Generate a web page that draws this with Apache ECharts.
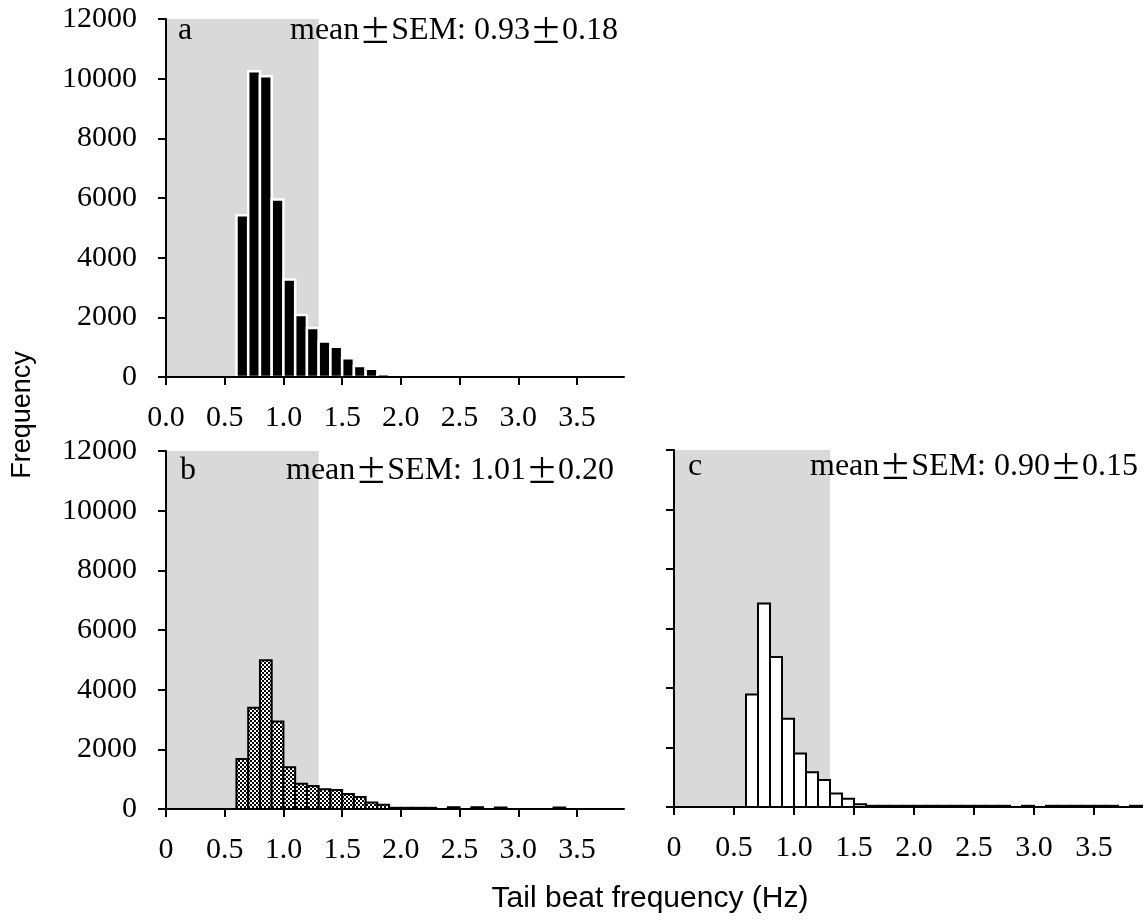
<!DOCTYPE html>
<html><head><meta charset="utf-8">
<script src="https://cdn.jsdelivr.net/npm/echarts@6/dist/echarts.min.js"></script>
<style>html,body{margin:0;padding:0;background:#fff}#chart{width:1148px;height:920px}</style>
</head><body><div id="chart"></div>
<script>
// ---- data ----
const binLeft = [0.6,0.7,0.8,0.9,1.0,1.1,1.2,1.3,1.4,1.5,1.6,1.7,1.8,1.9,2.0,2.1,2.2,2.3,2.4,2.5,2.6,2.7,2.8,2.9,3.0,3.1,3.2,3.3,3.4,3.5,3.6,3.7,3.8];
const binWidth = 0.1;
const freqA = [5420,10250,10080,5950,3270,2080,1640,1190,1010,630,370,280,100,0,0,0,0,0,0,0,0,0,0,0,0,0,0,0,0,0,0,0,0];
const freqB = [1680,3390,4990,2930,1400,850,770,660,640,500,400,220,140,40,40,40,40,0,60,0,60,0,50,0,0,0,0,50,0,0,0,0,0];
const freqC = [3780,6840,5040,2970,1800,1170,910,450,280,90,40,40,40,40,40,40,40,40,40,40,40,40,0,40,0,40,40,40,40,40,40,0,40];
const xTicks = [0,0.5,1.0,1.5,2.0,2.5,3.0,3.5];
const xLabelsA = ['0.0','0.5','1.0','1.5','2.0','2.5','3.0','3.5'];
const xLabelsBC = ['0','0.5','1.0','1.5','2.0','2.5','3.0','3.5'];
const xMax = 3.9;
const yMax = 12000;
const yStep = 2000;
const shadeRange = [0, 1.3];
const panelLetters = ['a','b','c'];
const panelMeans = ['0.93','1.01','0.90'];
const panelSems = ['0.18','0.20','0.15'];
const yTitle = 'Frequency';
const xTitle = 'Tail beat frequency (Hz)';

// ---- styles ----
const serif = '"Liberation Serif","Times New Roman",serif';
const sans = '"Liberation Sans",Arial,sans-serif';

// checker pattern for panel b
const pc = document.createElement('canvas');
pc.width = 4; pc.height = 4;
const pctx = pc.getContext('2d');
pctx.fillStyle = '#000'; pctx.fillRect(0,0,4,4);
pctx.fillStyle = '#fff'; pctx.fillRect(0,0,2,2); pctx.fillRect(2,2,2,2);

const barStyles = [
  {fill:'#000', stroke:'#fff', lineWidth:2.5},
  {fill:{image:pc, repeat:'repeat'}, stroke:'#000', lineWidth:2},
  {fill:'#fff', stroke:'#000', lineWidth:2}
];

const grids = [
  {left:166, top:19, width:458, height:358},
  {left:166, top:451, width:458, height:358},
  {left:674, top:450, width:468, height:357}
].map(g => Object.assign({outerBoundsMode:'none', containLabel:false}, g));

const xAxes = grids.map((g,i) => ({
  type:'value', gridIndex:i, min:0, max:xMax, interval:0.5, z:5,
  axisLine:{show:true, onZero:false, lineStyle:{color:'#000', width:2}},
  axisTick:{show:true, customValues:xTicks, length:8, lineStyle:{color:'#000', width:2}},
  axisLabel:{show:true, customValues:xTicks, margin:26, color:'#000', fontSize:30, fontFamily:serif,
    formatter: v => (i===0 ? xLabelsA : xLabelsBC)[xTicks.findIndex(t => Math.abs(t-v)<1e-9)]},
  splitLine:{show:false}
}));
const yAxes = grids.map((g,i) => ({
  type:'value', gridIndex:i, min:0, max:yMax, interval:yStep, z:5,
  axisLine:{show:true, onZero:false, lineStyle:{color:'#000', width:2}},
  axisTick:{show:true, length:8, lineStyle:{color:'#000', width:2}},
  axisLabel:{show:i!==2, margin:29, color:'#000', fontSize:30, fontFamily:serif,
    formatter: v => String(v), padding:[5,0,0,0]},
  splitLine:{show:false}
}));

const series = [];
grids.forEach((g,i) => {
  series.push({
    type:'custom', xAxisIndex:i, yAxisIndex:i, silent:true, z:1,
    data:[[shadeRange[0], shadeRange[1], yMax]],
    renderItem:(params, api) => {
      const p0 = api.coord([api.value(0), api.value(2)]);
      const p1 = api.coord([api.value(1), 0]);
      return {type:'rect', shape:{x:p0[0], y:p0[1], width:p1[0]-p0[0], height:p1[1]-p0[1]}, style:{fill:'#d9d9d9'}};
    }
  });
  const vals = [freqA, freqB, freqC][i];
  series.push({
    type:'custom', xAxisIndex:i, yAxisIndex:i, silent:true, z:2,
    data: binLeft.map((b,k) => [b, b+binWidth, vals[k]]),
    renderItem:(params, api) => {
      const v = api.value(2);
      if (!(v > 0)) return null;
      const p0 = api.coord([api.value(0), v]);
      const p1 = api.coord([api.value(1), 0]);
      return {type:'rect', shape:{x:p0[0], y:p0[1], width:p1[0]-p0[0], height:p1[1]-p0[1]}, style:Object.assign({}, barStyles[i])};
    }
  });
});

const letterPos = [[178,31],[180,471],[688,467]];
const meanPos = [[618,31],[614,471],[1138,467]];
const graphic = [
  {type:'text', x:23, y:415, rotation:Math.PI/2, z:10,
   style:{text:yTitle, font:'27px '+sans, fill:'#000', align:'center', verticalAlign:'middle'}},
  {type:'text', x:650, y:899, z:10,
   style:{text:xTitle, font:'30px '+sans, fill:'#000', align:'center', verticalAlign:'middle'}}
];
panelLetters.forEach((l,i) => {
  graphic.push({type:'text', x:letterPos[i][0], y:letterPos[i][1], z:10,
    style:{text:l, font:'32px '+serif, fill:'#000', align:'left', verticalAlign:'middle'}});
  graphic.push({type:'text', x:meanPos[i][0], y:meanPos[i][1], z:10,
    style:{text:'{t|mean}{p|±}{t|SEM: '+panelMeans[i]+'}{p|±}{t|'+panelSems[i]+'}',
      align:'right', verticalAlign:'middle', fill:'#000',
      rich:{t:{fontSize:32, fontFamily:serif, fill:'#000', color:'#000'},
            p:{fontSize:32, fontFamily:'"Noto Sans CJK JP"', fill:'#000', color:'#000'}}}});
});

const chart = echarts.init(document.getElementById('chart'), null, {renderer:'canvas'});
chart.setOption({
  animation:false, backgroundColor:'#fff',
  grid:grids, xAxis:xAxes, yAxis:yAxes, series:series, graphic:graphic
});
</script></body></html>
